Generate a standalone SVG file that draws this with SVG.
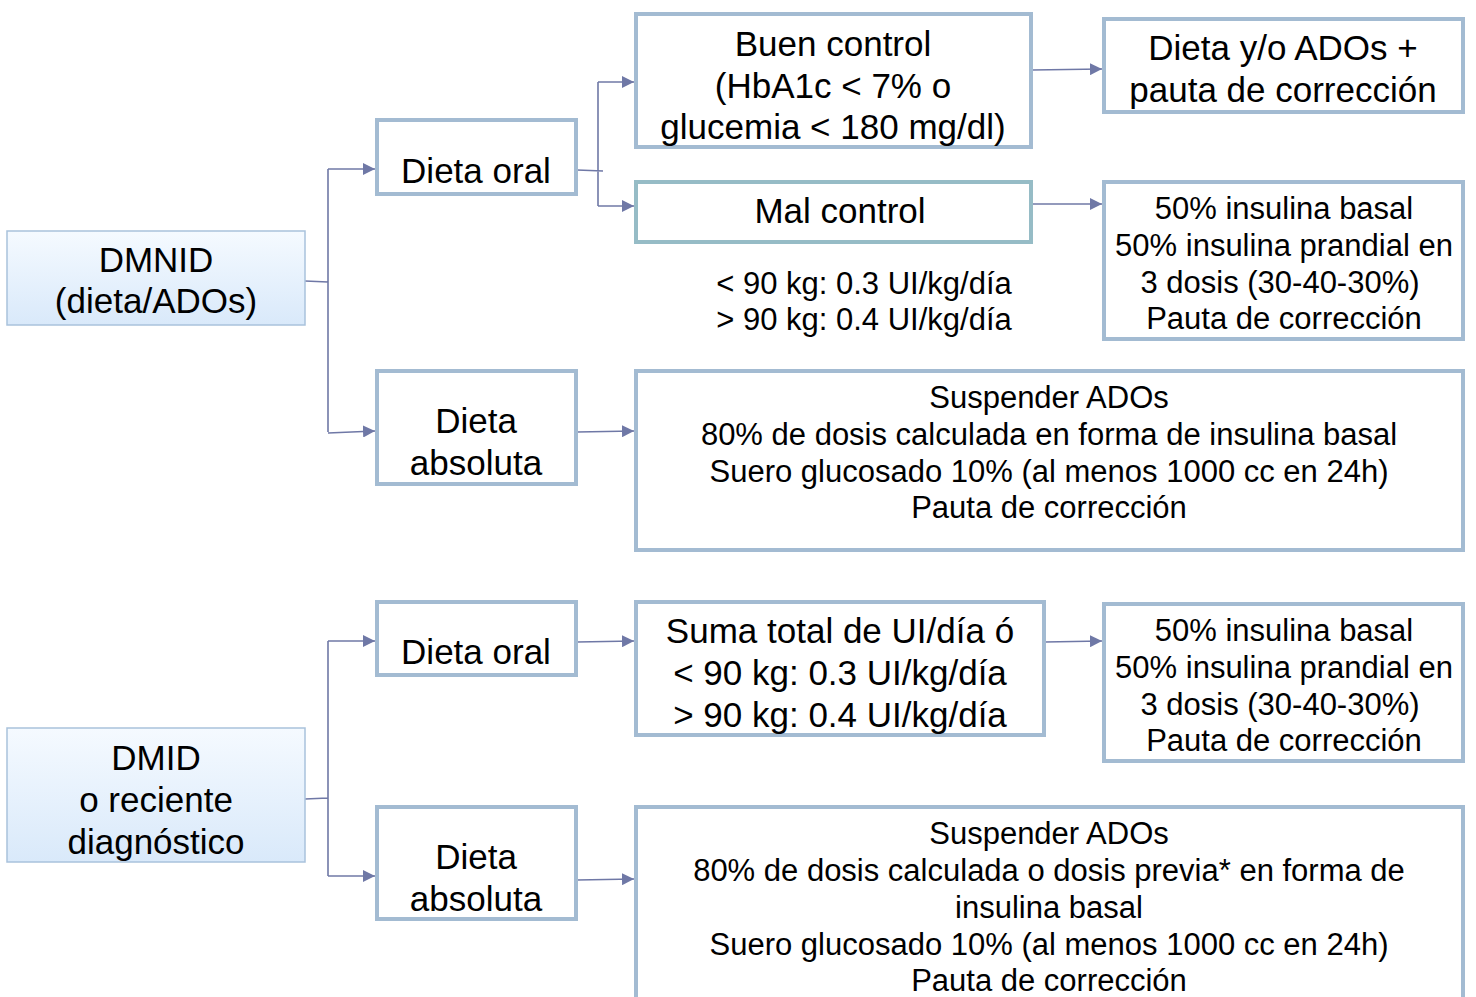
<svg xmlns="http://www.w3.org/2000/svg" width="1476" height="997" viewBox="0 0 1476 997">
<style>
.box{fill:#ffffff;stroke:#a3bbd2;stroke-width:4}
.teal{fill:#ffffff;stroke:#96bcc6;stroke-width:4}
.root{fill:url(#g);stroke:#a9c2dc;stroke-width:1.5}
.c{fill:none;stroke:#6f78a6;stroke-width:1.6}
text{font-family:"Liberation Sans",Arial,sans-serif;fill:#000;text-anchor:middle}
.L{font-size:35px}
.S{font-size:31px}
</style>
<defs>
<linearGradient id="g" x1="0" y1="0" x2="0" y2="1">
<stop offset="0" stop-color="#f5faff"/>
<stop offset="1" stop-color="#d9e9fa"/>
</linearGradient>
<marker id="a" markerUnits="userSpaceOnUse" markerWidth="14" markerHeight="12" refX="12" refY="6" orient="auto">
<path d="M0,0 L12,6 L0,12 Z" fill="#6f78a6"/>
</marker>
</defs>
<g id="connectors">
<path class="c" d="M305,281 L328,282 M328,169 L328,432"/>
<path class="c" d="M328,169 L375,169" marker-end="url(#a)"/>
<path class="c" d="M328,433 L375,431" marker-end="url(#a)"/>
<path class="c" d="M577,170 L603,171 M598,82 L598,206"/>
<path class="c" d="M598,82 L634,82" marker-end="url(#a)"/>
<path class="c" d="M598,206 L634,206" marker-end="url(#a)"/>
<path class="c" d="M1032,70 L1102,69" marker-end="url(#a)"/>
<path class="c" d="M1032,204 L1102,204" marker-end="url(#a)"/>
<path class="c" d="M577,432 L634,431" marker-end="url(#a)"/>
<path class="c" d="M305,799 L328,798 M328,641 L328,876"/>
<path class="c" d="M328,641 L375,641" marker-end="url(#a)"/>
<path class="c" d="M328,876 L375,876" marker-end="url(#a)"/>
<path class="c" d="M577,642 L634,641" marker-end="url(#a)"/>
<path class="c" d="M1045,642 L1102,641" marker-end="url(#a)"/>
<path class="c" d="M577,880 L634,879" marker-end="url(#a)"/>
</g>
<g id="dmnid">
<rect class="root" x="7" y="231" width="298" height="94"/>
<text class="L" x="156" y="272">DMNID</text>
<text class="L" x="156" y="313">(dieta/ADOs)</text>
</g>
<g id="dieta-oral-1">
<rect class="box" x="377" y="120" width="199" height="74"/>
<text class="L" x="476" y="183">Dieta oral</text>
</g>
<g id="buen-control">
<rect class="box" x="636" y="14" width="395" height="133"/>
<text class="L" x="833" y="56">Buen control</text>
<text class="L" x="833" y="98">(HbA1c &lt; 7% o</text>
<text class="L" x="833" y="139">glucemia &lt; 180 mg/dl)</text>
</g>
<g id="mal-control">
<rect class="teal" x="636" y="182" width="395" height="60"/>
<text class="L" x="840" y="223">Mal control</text>
</g>
<g id="dieta-ados">
<rect class="box" x="1104" y="19" width="359" height="93"/>
<text class="L" x="1283" y="60">Dieta y/o ADOs +</text>
<text class="L" x="1283" y="102">pauta de corrección</text>
</g>
<g id="insulina-1">
<rect class="box" x="1104" y="182" width="359" height="157"/>
<text class="S" x="1284" y="219">50% insulina basal</text>
<text class="S" x="1284" y="256">50% insulina prandial en</text>
<text class="S" x="1280" y="293">3 dosis (30-40-30%)</text>
<text class="S" x="1284" y="329">Pauta de corrección</text>
</g>
<g id="dosis-label">
<text class="S" x="864" y="294">&lt; 90 kg: 0.3 UI/kg/día</text>
<text class="S" x="864" y="330">&gt; 90 kg: 0.4 UI/kg/día</text>
</g>
<g id="dieta-absoluta-1">
<rect class="box" x="377" y="371" width="199" height="113"/>
<text class="L" x="476" y="433">Dieta</text>
<text class="L" x="476" y="475">absoluta</text>
</g>
<g id="suspender-1">
<rect class="box" x="636" y="371" width="827" height="179"/>
<text class="S" x="1049" y="408">Suspender ADOs</text>
<text class="S" x="1049" y="445">80% de dosis calculada en forma de insulina basal</text>
<text class="S" x="1049" y="482">Suero glucosado 10% (al menos 1000 cc en 24h)</text>
<text class="S" x="1049" y="518">Pauta de corrección</text>
</g>
<g id="dmid">
<rect class="root" x="7" y="728" width="298" height="134"/>
<text class="L" x="156" y="770">DMID</text>
<text class="L" x="156" y="812">o reciente</text>
<text class="L" x="156" y="854">diagnóstico</text>
</g>
<g id="dieta-oral-2">
<rect class="box" x="377" y="602" width="199" height="73"/>
<text class="L" x="476" y="664">Dieta oral</text>
</g>
<g id="suma-total">
<rect class="box" x="636" y="602" width="408" height="133"/>
<text class="L" x="840" y="643">Suma total de UI/día ó</text>
<text class="L" x="840" y="685">&lt; 90 kg: 0.3 UI/kg/día</text>
<text class="L" x="840" y="727">&gt; 90 kg: 0.4 UI/kg/día</text>
</g>
<g id="insulina-2">
<rect class="box" x="1104" y="604" width="359" height="157"/>
<text class="S" x="1284" y="641">50% insulina basal</text>
<text class="S" x="1284" y="678">50% insulina prandial en</text>
<text class="S" x="1280" y="715">3 dosis (30-40-30%)</text>
<text class="S" x="1284" y="751">Pauta de corrección</text>
</g>
<g id="dieta-absoluta-2">
<rect class="box" x="377" y="807" width="199" height="112"/>
<text class="L" x="476" y="869">Dieta</text>
<text class="L" x="476" y="911">absoluta</text>
</g>
<g id="suspender-2">
<rect class="box" x="636" y="807" width="827" height="192"/>
<text class="S" x="1049" y="844">Suspender ADOs</text>
<text class="S" x="1049" y="881">80% de dosis calculada o dosis previa* en forma de</text>
<text class="S" x="1049" y="918">insulina basal</text>
<text class="S" x="1049" y="955">Suero glucosado 10% (al menos 1000 cc en 24h)</text>
<text class="S" x="1049" y="991">Pauta de corrección</text>
</g>
</svg>
